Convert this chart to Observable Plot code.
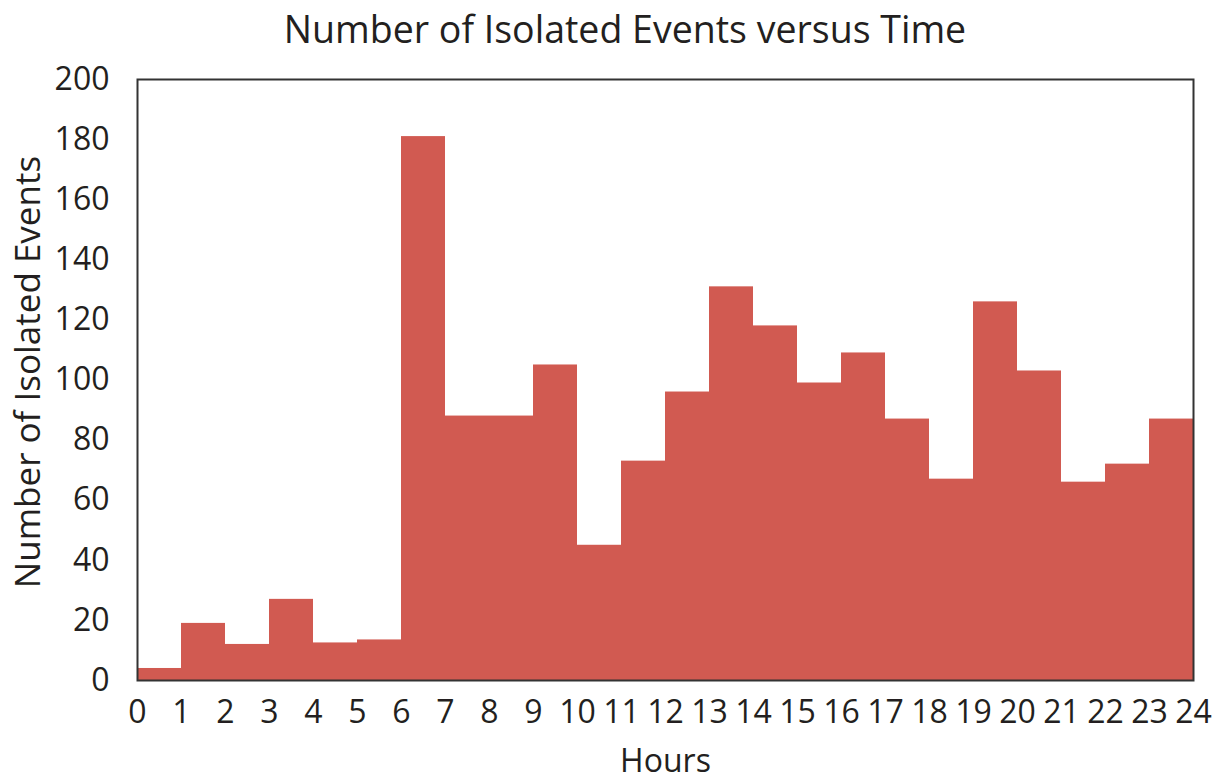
<!DOCTYPE html>
<html>
<head>
<meta charset="utf-8">
<script src="https://cdn.jsdelivr.net/npm/d3@7"></script>
<script src="https://cdn.jsdelivr.net/npm/@observablehq/plot@0.6"></script>
<style>
  html, body { margin: 0; padding: 0; background: #fff; }
  #title {
    height: 55px; line-height: 58px; text-align: center;
    font-family: "Open Sans", sans-serif; font-size: 37.5px; color: #231f20;
    padding-left: 25px; box-sizing: border-box; width: 1225px;
  }
</style>
</head>
<body>
<div id="title">Number of Isolated Events versus Time</div>
<div id="chart"></div>
<script>
const hours = [0,1,2,3,4,5,6,7,8,9,10,11,12,13,14,15,16,17,18,19,20,21,22,23];
const hourEnds = [1,2,3,4,5,6,7,8,9,10,11,12,13,14,15,16,17,18,19,20,21,22,23,24];
const counts = [4,19,12,27,12.5,13.5,181,88,88,105,45,73,96,131,118,99,109,87,67,126,103,66,72,87];
const xTicks = [0,1,2,3,4,5,6,7,8,9,10,11,12,13,14,15,16,17,18,19,20,21,22,23,24];
const yTicks = [0,20,40,60,80,100,120,140,160,180,200];
const titleText = "Number of Isolated Events versus Time";
const xLabel = "Hours";
const yLabel = "Number of Isolated Events";

const data = hours.map((h, i) => ({x1: h, x2: hourEnds[i], y: counts[i]}));

const plot = Plot.plot({
  width: 1225,
  height: 725,
  marginTop: 24,
  marginBottom: 100,
  marginLeft: 137,
  marginRight: 32,
  style: {fontFamily: "'Open Sans', sans-serif", color: "#231f20", background: "#fff"},
  x: {domain: [0, 24]},
  y: {domain: [0, 200]},
  marks: [
    Plot.rectY(data, {x1: "x1", x2: "x2", y: "y", fill: "#D15A51", inset: 0}),
    Plot.frame({stroke: "#333", strokeWidth: 2}),
    Plot.axisX({ticks: xTicks, tickSize: 0, tickPadding: 20, label: null, fontSize: 32, tickFormat: d => String(d)}),
    Plot.axisY({ticks: yTicks, tickSize: 0, tickPadding: 28, label: null, fontSize: 32}),
    Plot.text([xLabel], {text: d => d, frameAnchor: "bottom", dy: 91, fontSize: 32, fill: "#231f20"}),
    Plot.text([yLabel], {text: d => d, frameAnchor: "left", textAnchor: "middle", dx: -109, dy: -8, rotate: -90, fontSize: 35, fill: "#231f20"})
  ]
});
document.getElementById("chart").appendChild(plot);
</script>
</body>
</html>
